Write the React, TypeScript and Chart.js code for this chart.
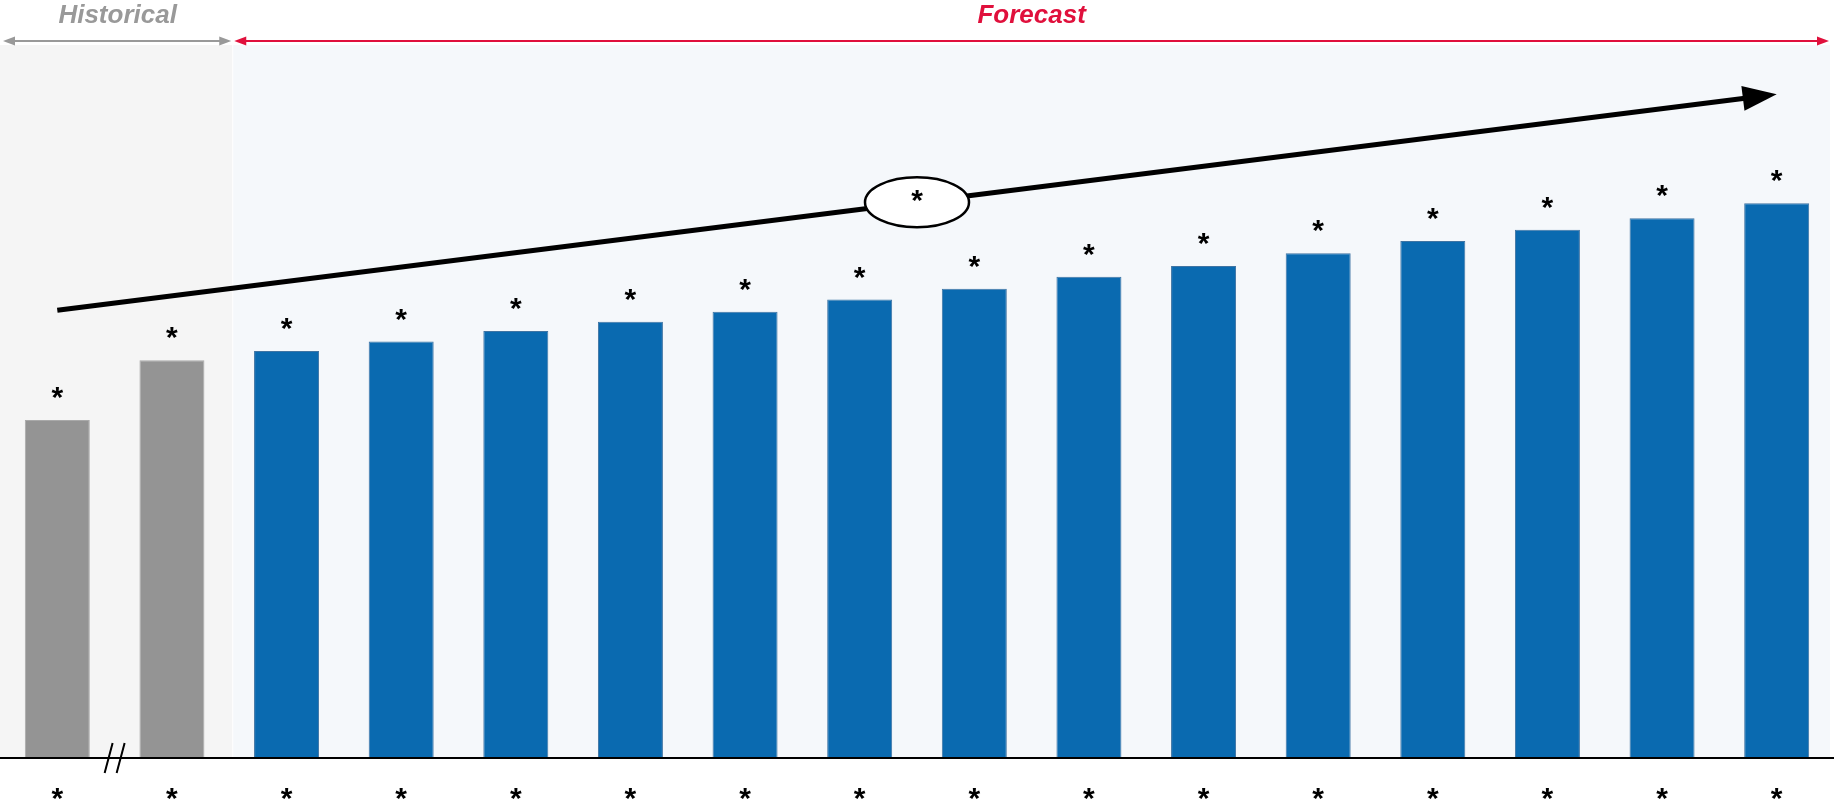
import React, { useEffect, useRef } from "react";
import { Chart, registerables } from "chart.js";

Chart.register(...registerables);

const CATEGORIES = ["*", "*", "*", "*", "*", "*", "*", "*", "*", "*", "*", "*", "*", "*", "*", "*"];
const VALUES = [47.4, 55.8, 57.1, 58.4, 59.9, 61.2, 62.6, 64.3, 65.8, 67.5, 69.0, 70.8, 72.5, 74.1, 75.7, 77.8];
const BAR_LABELS = ["*", "*", "*", "*", "*", "*", "*", "*", "*", "*", "*", "*", "*", "*", "*", "*"];
const HISTORICAL_COUNT = 2;
const TREND_START = 62.8;
const TREND_END = 93.1;
const TREND_LABEL = "*";
const HISTORICAL_TITLE = "Historical";
const FORECAST_TITLE = "Forecast";
const Y_MAX = 100;

const GRAY_BAR = "#949494";
const BLUE_BAR = "#0a6ab0";
const RED = "#e0103c";
const GRAY_TEXT = "#999999";
const FONT = "'Liberation Sans', Arial, sans-serif";

function arrowHead(ctx: CanvasRenderingContext2D, x: number, y: number, dir: number, len: number, half: number) {
  ctx.beginPath();
  ctx.moveTo(x, y);
  ctx.lineTo(x - dir * len, y - half);
  ctx.lineTo(x - dir * len, y + half);
  ctx.closePath();
  ctx.fill();
}

const decorPlugin = {
  id: "decor",
  beforeDatasetsDraw(chart: any) {
    const { ctx, chartArea, scales } = chart;
    const x = scales.x;
    const boundary = (x.getPixelForValue(HISTORICAL_COUNT - 1) + x.getPixelForValue(HISTORICAL_COUNT)) / 2 + 3;
    ctx.save();
    ctx.fillStyle = "#f5f5f5";
    ctx.fillRect(0, chartArea.top, boundary, chartArea.bottom - chartArea.top);
    ctx.fillStyle = "#f5f8fb";
    ctx.fillRect(boundary + 1, chartArea.top, chartArea.right - 4 - boundary - 1, chartArea.bottom - chartArea.top);
    ctx.restore();
  },
  afterDraw(chart: any) {
    const { ctx, chartArea, scales, width } = chart;
    const x = scales.x;
    const y = scales.y;
    const boundary = (x.getPixelForValue(HISTORICAL_COUNT - 1) + x.getPixelForValue(HISTORICAL_COUNT)) / 2 + 3;
    ctx.save();

    // Baseline across full width
    ctx.strokeStyle = "#000";
    ctx.lineWidth = 2;
    ctx.beginPath();
    ctx.moveTo(0, chartArea.bottom);
    ctx.lineTo(width, chartArea.bottom);
    ctx.stroke();

    // Region titles + arrows
    const arrowY = chartArea.top - 4;
    ctx.lineWidth = 2;
    ctx.strokeStyle = GRAY_TEXT;
    ctx.fillStyle = GRAY_TEXT;
    ctx.beginPath();
    ctx.moveTo(6, arrowY);
    ctx.lineTo(boundary - 4, arrowY);
    ctx.stroke();
    arrowHead(ctx, 3, arrowY, -1, 12, 4.5);
    arrowHead(ctx, boundary - 1, arrowY, 1, 12, 4.5);
    ctx.font = `italic bold 26px ${FONT}`;
    ctx.textAlign = "center";
    ctx.textBaseline = "alphabetic";
    ctx.fillText(HISTORICAL_TITLE, (3 + boundary) / 2, 23);

    const rEnd = chartArea.right - 5;
    ctx.strokeStyle = RED;
    ctx.fillStyle = RED;
    ctx.beginPath();
    ctx.moveTo(boundary + 5, arrowY);
    ctx.lineTo(rEnd - 4, arrowY);
    ctx.stroke();
    arrowHead(ctx, boundary + 2, arrowY, -1, 12, 4.5);
    arrowHead(ctx, rEnd, arrowY, 1, 12, 4.5);
    ctx.fillText(FORECAST_TITLE, (boundary + 2 + rEnd) / 2, 23);

    // Bar labels
    ctx.fillStyle = "#000";
    ctx.font = `bold 30px ${FONT}`;
    const meta = chart.getDatasetMeta(0);
    meta.data.forEach((bar: any, i: number) => {
      ctx.fillText(BAR_LABELS[i], bar.x, bar.y - 13);
    });

    // Category tick labels
    CATEGORIES.forEach((c, i) => {
      ctx.fillText(c, x.getPixelForTick(i), chartArea.bottom + 50);
    });

    // Axis break mark
    const mid = (x.getPixelForValue(0) + x.getPixelForValue(1)) / 2;
    ctx.strokeStyle = "#000";
    ctx.lineWidth = 2;
    [-6, 6].forEach((off) => {
      ctx.beginPath();
      ctx.moveTo(mid + off - 4, chartArea.bottom + 15);
      ctx.lineTo(mid + off + 4, chartArea.bottom - 15);
      ctx.stroke();
    });

    // Trend arrow
    const x0 = x.getPixelForValue(0);
    const y0 = y.getPixelForValue(TREND_START);
    const x1 = x.getPixelForValue(CATEGORIES.length - 1);
    const y1 = y.getPixelForValue(TREND_END);
    const ang = Math.atan2(y1 - y0, x1 - x0);
    const headLen = 34;
    const bx = x1 - headLen * Math.cos(ang);
    const by = y1 - headLen * Math.sin(ang);
    ctx.lineWidth = 5;
    ctx.lineCap = "butt";
    ctx.beginPath();
    ctx.moveTo(x0, y0);
    ctx.lineTo(bx + 2 * Math.cos(ang), by + 2 * Math.sin(ang));
    ctx.stroke();
    ctx.fillStyle = "#000";
    ctx.beginPath();
    ctx.moveTo(x1, y1);
    ctx.lineTo(bx - 12.5 * Math.sin(ang), by + 12.5 * Math.cos(ang));
    ctx.lineTo(bx + 12.5 * Math.sin(ang), by - 12.5 * Math.cos(ang));
    ctx.closePath();
    ctx.fill();

    // Ellipse with label
    const mx = (x0 + x1) / 2;
    const my = (y0 + y1) / 2;
    ctx.beginPath();
    ctx.ellipse(mx, my, 52, 25, 0, 0, Math.PI * 2);
    ctx.fillStyle = "#fff";
    ctx.fill();
    ctx.lineWidth = 2.5;
    ctx.stroke();
    ctx.fillStyle = "#000";
    ctx.fillText(TREND_LABEL, mx, my + 8);

    ctx.restore();
  },
};

export default function App() {
  const ref = useRef<HTMLCanvasElement | null>(null);
  useEffect(() => {
    document.body.style.margin = "0";
    if (!ref.current) return;
    const chart = new Chart(ref.current, {
      type: "bar",
      data: {
        labels: CATEGORIES,
        datasets: [
          {
            data: VALUES,
            backgroundColor: VALUES.map((_, i) => (i < HISTORICAL_COUNT ? GRAY_BAR : BLUE_BAR)),
            borderColor: VALUES.map((_, i) => (i < HISTORICAL_COUNT ? "#a9a9a9" : "#3f74a3")),
            borderWidth: 1,
            categoryPercentage: 0.567,
            barPercentage: 1,
          },
        ],
      },
      options: {
        animation: false,
        responsive: true,
        maintainAspectRatio: false,
        devicePixelRatio: 1,
        layout: { padding: { top: 45, bottom: 46, left: 0, right: 0 } },
        plugins: { legend: { display: false }, tooltip: { enabled: false } },
        scales: {
          x: {
            display: true,
            grid: { display: false, drawTicks: false },
            ticks: { display: false },
            border: { display: true, color: "#000", width: 2 },
          },
          y: { display: false, min: 0, max: Y_MAX },
        },
      },
      plugins: [decorPlugin],
    });
    return () => chart.destroy();
  }, []);
  return (
    <div style={{ position: "absolute", left: 0, top: 0, width: 1834, height: 804 }}>
      <canvas ref={ref} />
    </div>
  );
}
